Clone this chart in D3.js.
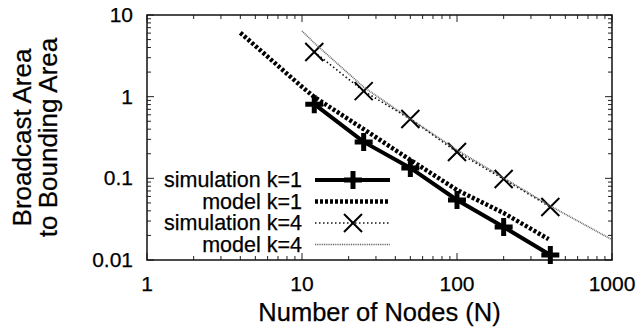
<!DOCTYPE html>
<html>
<head>
<meta charset="utf-8">
<script src="https://cdn.jsdelivr.net/npm/d3@7"></script>
<style>
  body { margin: 0; background: #fff; }
  text { font-family: "Liberation Sans", Arial, Helvetica, sans-serif; fill: #000; stroke: #000; stroke-width: 0.25px; }
</style>
</head>
<body>
<svg id="chart" width="639" height="335"></svg>
<script>
// values
const simNodes = [12, 25, 50, 100, 200, 400];
const simK1 = [0.81, 0.279, 0.134, 0.0543, 0.0253, 0.0115];
const simK4 = [3.52, 1.17, 0.533, 0.21, 0.098, 0.0446];

const modelK1Nodes = [4, 6, 8, 10, 12, 25, 50, 100, 200, 390];
const modelK1 = [6.07, 3.09, 1.91, 1.32, 0.99, 0.40, 0.168, 0.072, 0.0376, 0.018];

const modelK4Nodes = [10, 12, 25, 44, 100, 200, 400, 980];
const modelK4 = [6.37, 4.54, 1.31, 0.63, 0.222, 0.101, 0.0459, 0.0181];

const xTickLabels = ["1", "10", "100", "1000"];
const yTickLabels = ["0.01", "0.1", "1", "10"];
const legendNames = ["simulation k=1", "model k=1", "simulation k=4", "model k=4"];

const svg = d3.select("#chart");
const pLeft = 147, pRight = 612, pTop = 15, pBottom = 260;

const x = d3.scaleLog().domain([1, 1000]).range([pLeft, pRight]);
const y = d3.scaleLog().domain([0.01, 10]).range([pBottom, pTop]);

function isMajor(t) {
    return Math.abs(Math.log10(t) - Math.round(Math.log10(t))) < 1e-9;
}

// ticks, gnuplot style: inside and mirrored
const ticks = svg.append("g").attr("stroke", "#222").attr("stroke-width", 1);
x.ticks().forEach(function (t) {
    let len = isMajor(t) ? 7 : 4;
    ticks.append("line").attr("x1", x(t)).attr("x2", x(t)).attr("y1", pBottom).attr("y2", pBottom - len);
    ticks.append("line").attr("x1", x(t)).attr("x2", x(t)).attr("y1", pTop).attr("y2", pTop + len);
});
y.ticks().forEach(function (t) {
    let len = isMajor(t) ? 7 : 4;
    ticks.append("line").attr("y1", y(t)).attr("y2", y(t)).attr("x1", pLeft).attr("x2", pLeft + len);
    ticks.append("line").attr("y1", y(t)).attr("y2", y(t)).attr("x1", pRight).attr("x2", pRight - len);
});

svg.append("rect")
    .attr("x", pLeft).attr("y", pTop)
    .attr("width", pRight - pLeft).attr("height", pBottom - pTop)
    .attr("fill", "none").attr("stroke", "#111").attr("stroke-width", 1.5);

svg.selectAll(".xlab")
    .data(xTickLabels)
    .enter()
    .append("text")
    .attr("x", d => x(+d))
    .attr("y", 291)
    .attr("text-anchor", "middle")
    .style("font-size", "21px")
    .text(d => d);

svg.selectAll(".ylab")
    .data(yTickLabels)
    .enter()
    .append("text")
    .attr("x", 133)
    .attr("y", d => y(+d) + 7)
    .attr("text-anchor", "end")
    .style("font-size", "21px")
    .text(d => d);

svg.append("text")
    .attr("x", (pLeft + pRight) / 2)
    .attr("y", 321)
    .attr("text-anchor", "middle")
    .style("font-size", "25.5px")
    .text("Number of Nodes (N)");

const ytitle = svg.append("text")
    .attr("transform", "translate(31," + ((pTop + pBottom) / 2) + ") rotate(-90)")
    .attr("text-anchor", "middle")
    .style("font-size", "26px");
ytitle.append("tspan").attr("x", 0).attr("dy", 0).text("Broadcast Area");
ytitle.append("tspan").attr("x", 0).attr("dy", 26).text("to Bounding Area");

const line = d3.line().x(d => x(d[0])).y(d => y(d[1]));

const styles = [
    { stroke: "#000", width: 4, dash: null, marker: "plus" },
    { stroke: "#000", width: 4.5, dash: "3,2", marker: null },
    { stroke: "#111", width: 1.6, dash: "1.5,2.5", marker: "cross" },
    { stroke: "#666", width: 1.6, dash: "1,0.8", marker: null }
];

const series = [
    d3.zip(simNodes, simK1),
    d3.zip(modelK1Nodes, modelK1),
    d3.zip(simNodes, simK4),
    d3.zip(modelK4Nodes, modelK4)
];

function drawMarker(g, kind, cx, cy) {
    if (kind === "plus") {
        g.append("path")
            .attr("d", `M${cx - 9},${cy}H${cx + 9}M${cx},${cy - 9}V${cy + 9}`)
            .attr("stroke", "#000").attr("stroke-width", 5).attr("fill", "none");
    } else if (kind === "cross") {
        g.append("path")
            .attr("d", `M${cx - 9},${cy - 9}L${cx + 9},${cy + 9}M${cx - 9},${cy + 9}L${cx + 9},${cy - 9}`)
            .attr("stroke", "#000").attr("stroke-width", 2).attr("fill", "none");
    }
}

const plot = svg.append("g");
series.forEach(function (pts, i) {
    let s = styles[i];
    plot.append("path")
        .datum(pts)
        .attr("d", line)
        .attr("fill", "none")
        .attr("stroke", s.stroke)
        .attr("stroke-width", s.width)
        .attr("stroke-dasharray", s.dash);
    if (s.marker) {
        pts.forEach(p => drawMarker(plot, s.marker, x(p[0]), y(p[1])));
    }
});

// legend
const legend = svg.append("g");
legendNames.forEach(function (name, i) {
    let ly = 180 + i * 21.5;
    let s = styles[i];
    legend.append("text")
        .attr("x", 302).attr("y", ly + 7)
        .attr("text-anchor", "end")
        .style("font-size", "21.5px")
        .text(name);
    legend.append("line")
        .attr("x1", 315).attr("x2", 390).attr("y1", ly).attr("y2", ly)
        .attr("stroke", s.stroke).attr("stroke-width", s.width)
        .attr("stroke-dasharray", s.dash);
    if (s.marker) drawMarker(legend, s.marker, 353, ly);
});
</script>
</body>
</html>
